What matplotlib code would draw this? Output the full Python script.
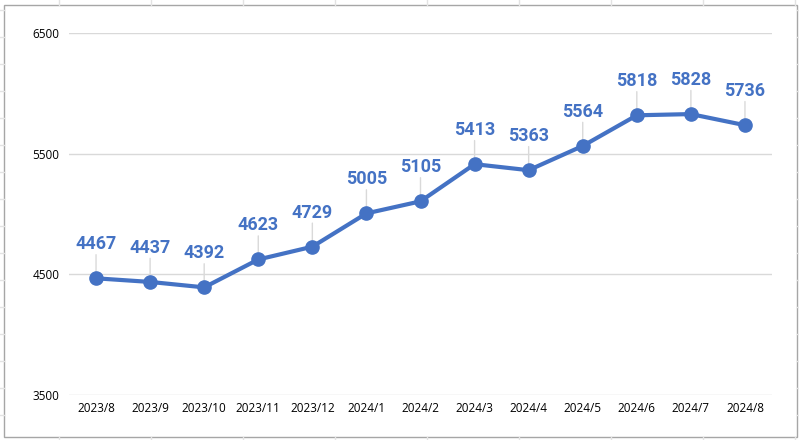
import numpy as np
import matplotlib
matplotlib.use("Agg")
import matplotlib.pyplot as plt
from matplotlib.lines import Line2D
from matplotlib.patches import Rectangle

# data
months = ["2023/8", "2023/9", "2023/10", "2023/11", "2023/12", "2024/1", "2024/2",
          "2024/3", "2024/4", "2024/5", "2024/6", "2024/7", "2024/8"]
values = [4467, 4437, 4392, 4623, 4729, 5005, 5105, 5413, 5363, 5564, 5818, 5828, 5736]
yticks = [3500, 4500, 5500, 6500]

W, H = 799, 440
BLUE = "#4472C4"
GRID = "#d9d9d9"

fig = plt.figure(figsize=(W / 100, H / 100), dpi=100)


def fx(px):
    return px / W


def fy(py):
    return 1 - py / H


# faint spreadsheet cells behind the chart
cell = "#e3e3e3"
for xv in np.arange(59, W, 92):
    fig.add_artist(Line2D([fx(xv), fx(xv)], [fy(0), fy(5)], color=cell, lw=1))
    fig.add_artist(Line2D([fx(xv), fx(xv)], [fy(437), fy(H)], color=cell, lw=1))
for yv in np.arange(10, H, 27):
    fig.add_artist(Line2D([fx(0), fx(4)], [fy(yv), fy(yv)], color=cell, lw=1))
    fig.add_artist(Line2D([fx(797), fx(W)], [fy(yv), fy(yv)], color=cell, lw=1))

# chart border
fig.add_artist(Rectangle((fx(4), fy(437)), fx(797) - fx(4), fy(5) - fy(437),
                         fill=False, edgecolor="#a6a6a6", lw=1))

ax = fig.add_axes([fx(69), fy(395), fx(772) - fx(69), fy(33) - fy(395)])
ax.set_facecolor("none")
x = np.arange(len(months))

ax.set_xlim(-0.5, len(months) - 0.5)
ax.set_ylim(3500, 6500)
ax.set_yticks(yticks)
ax.set_xticks(x)
ax.set_xticklabels(months)
for s in ax.spines.values():
    s.set_visible(False)
ax.tick_params(length=0, labelsize=8.5, colors="#000000")
ax.tick_params(axis="y", pad=7)
ax.tick_params(axis="x", pad=5)
for lab in ax.get_xticklabels() + ax.get_yticklabels():
    lab.set_family("Open Sans")
ax.yaxis.grid(True, color=GRID, lw=1)
ax.set_axisbelow(True)

ax.plot(x, values, color=BLUE, lw=3, marker="o", markersize=9.5, zorder=3,
        solid_capstyle="round")

for i, v in enumerate(values):
    # leader line
    ax.annotate("", xy=(i, v), xytext=(0, 17), textcoords="offset points",
                arrowprops=dict(arrowstyle="-", color=GRID, lw=1,
                                shrinkA=0, shrinkB=0), zorder=1)
    ax.annotate(str(v), xy=(i, v), xytext=(0, 24.5), textcoords="offset points",
                ha="center", va="center", fontsize=13, fontweight="bold",
                family="Roboto", color=BLUE, zorder=4)

fig.savefig("out.png", dpi=100)
